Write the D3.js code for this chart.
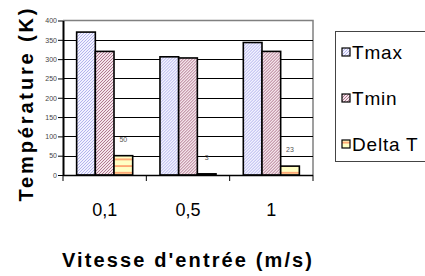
<!DOCTYPE html>
<html>
<head>
<meta charset="utf-8">
<script src="https://cdn.jsdelivr.net/npm/d3@7"></script>
<style>
  body { margin: 0; background: #fff; }
  svg { display: block; font-family: Arial, "Liberation Sans", sans-serif; }
</style>
</head>
<body>
<svg id="chart"></svg>
<script>
// Températures vs vitesse d'entrée

const categories = ["0,1", "0,5", "1"];
const seriesNames = ["Tmax", "Tmin", "Delta T"];
const tmax = [370, 306, 343];
const tmin = [320, 303, 320];
const deltaT = [50, 3, 23];
const yTicks = [0, 50, 100, 150, 200, 250, 300, 350, 400];

const width = 425;
const height = 276;

const svg = d3.select("#chart").attr("width", width).attr("height", height);

const plot = { left: 63, right: 313, top: 20.5, bottom: 175 };

// patterns for the bar fills
const defs = svg.append("defs");

const pMax = defs.append("pattern").attr("id", "pMax")
    .attr("patternUnits", "userSpaceOnUse").attr("width", 3).attr("height", 3);
pMax.append("rect").attr("width", 3).attr("height", 3).attr("fill", "#f2f2ff");
pMax.append("path").attr("d", "M0,3 L3,0 M-1,1 L1,-1 M2,4 L4,2")
    .attr("stroke", "#b4b4ec").attr("stroke-width", 1);

const pMin = defs.append("pattern").attr("id", "pMin")
    .attr("patternUnits", "userSpaceOnUse").attr("width", 3).attr("height", 3);
pMin.append("rect").attr("width", 3).attr("height", 3).attr("fill", "#f4e4ea");
pMin.append("path").attr("d", "M0,3 L3,0 M-1,1 L1,-1 M2,4 L4,2")
    .attr("stroke", "#b07890").attr("stroke-width", 1);

const pDelta = defs.append("pattern").attr("id", "pDelta")
    .attr("patternUnits", "userSpaceOnUse").attr("width", 6).attr("height", 6.7)
    .attr("y", 0.5);
pDelta.append("rect").attr("width", 6).attr("height", 6.7).attr("fill", "#ffffc4");
pDelta.append("rect").attr("y", 4).attr("width", 6).attr("height", 1.6).attr("fill", "#ff9966");

const fills = { "Tmax": "url(#pMax)", "Tmin": "url(#pMin)", "Delta T": "url(#pDelta)" };

// scales
const x = d3.scaleBand().domain(categories).range([plot.left, plot.right]);
const xSub = d3.scaleBand().domain(seriesNames).range([0, x.bandwidth()]).paddingOuter(0.73);
const y = d3.scaleLinear().domain([0, 400]).range([plot.bottom, plot.top]);

// gray frame on top and right
svg.append("path")
    .attr("d", `M${plot.left},${plot.top} H${plot.right} V${plot.bottom}`)
    .attr("fill", "none").attr("stroke", "#808080").attr("stroke-width", 1.5);

// gridlines
svg.append("g").selectAll("line").data(yTicks.filter(d => d > 0 && d < 400)).join("line")
    .attr("x1", plot.left).attr("x2", plot.right)
    .attr("y1", d => Math.round(y(d)) + 0.5).attr("y2", d => Math.round(y(d)) + 0.5)
    .attr("stroke", "#000").attr("stroke-width", 1);

// bars
const rows = categories.map((c, i) => ({ cat: c, values: [tmax[i], tmin[i], deltaT[i]] }));

const groups = svg.append("g").selectAll("g").data(rows).join("g")
    .attr("transform", d => `translate(${x(d.cat)},0)`);

groups.selectAll("rect")
    .data(d => d.values.map((v, j) => ({ name: seriesNames[j], value: v })))
    .join("rect")
    .attr("x", d => xSub(d.name))
    .attr("width", xSub.bandwidth())
    .attr("y", d => y(d.value))
    .attr("height", d => y(0) - y(d.value))
    .attr("fill", d => fills[d.name])
    .attr("stroke", "#000")
    .attr("stroke-width", 1.6);

// data labels on Delta T
groups.append("text")
    .attr("x", d => xSub("Delta T") + xSub.bandwidth() / 2)
    .attr("y", d => y(d.values[2]) - 14)
    .attr("text-anchor", "middle")
    .attr("font-size", "7px")
    .attr("fill", "#555")
    .text(d => d.values[2]);

// left axis
const yAxis = svg.append("g")
    .attr("transform", `translate(${plot.left},0)`)
    .call(d3.axisLeft(y).tickValues(yTicks).tickSize(5).tickPadding(1).tickSizeOuter(0));
yAxis.select(".domain").attr("stroke", "#000").attr("stroke-width", 2);
yAxis.selectAll(".tick line").attr("stroke", "#000").attr("x2", -5);
yAxis.selectAll(".tick text").attr("font-size", "7px").attr("fill", "#444");

// bottom axis
svg.append("line")
    .attr("x1", plot.left).attr("x2", plot.right)
    .attr("y1", plot.bottom + 0.5).attr("y2", plot.bottom + 0.5)
    .attr("stroke", "#000").attr("stroke-width", 1.5);

const bounds = categories.map(c => x(c)).concat([x(categories[categories.length - 1]) + x.bandwidth()]);
svg.append("g").selectAll("line").data(bounds).join("line")
    .attr("x1", d => d).attr("x2", d => d)
    .attr("y1", plot.bottom).attr("y2", plot.bottom + 6)
    .attr("stroke", "#000").attr("stroke-width", 1);

svg.append("g").selectAll("text").data(categories).join("text")
    .attr("x", d => x(d) + x.bandwidth() / 2)
    .attr("y", 216)
    .attr("text-anchor", "middle")
    .attr("font-size", "18px")
    .attr("fill", "#000")
    .text(d => d);

// axis titles
svg.append("text")
    .attr("x", 187).attr("y", 267)
    .attr("text-anchor", "middle")
    .attr("font-size", "20px").attr("font-weight", "bold")
    .attr("textLength", 250).attr("lengthAdjust", "spacing")
    .text("Vitesse d'entrée (m/s)");

svg.append("text")
    .attr("transform", "translate(33,105) rotate(-90)")
    .attr("text-anchor", "middle")
    .attr("font-size", "20px").attr("font-weight", "bold")
    .attr("textLength", 193).attr("lengthAdjust", "spacing")
    .text("Température (K)");

// legend
const legend = svg.append("g");
legend.append("rect")
    .attr("x", 335.5).attr("y", 31.5).attr("width", 100).attr("height", 130)
    .attr("fill", "#fff").attr("stroke", "#444").attr("stroke-width", 1);

const items = legend.selectAll("g").data(seriesNames).join("g")
    .attr("transform", (d, i) => `translate(342,${52 + i * 46})`);
items.append("rect")
    .attr("x", 0).attr("y", -4).attr("width", 8).attr("height", 8)
    .attr("fill", d => fills[d]).attr("stroke", "#000").attr("stroke-width", 1.2);
items.append("text")
    .attr("x", 10).attr("y", 7)
    .attr("font-size", "19px").attr("letter-spacing", "0.8px").attr("fill", "#000")
    .text(d => d);
</script>
</body>
</html>
